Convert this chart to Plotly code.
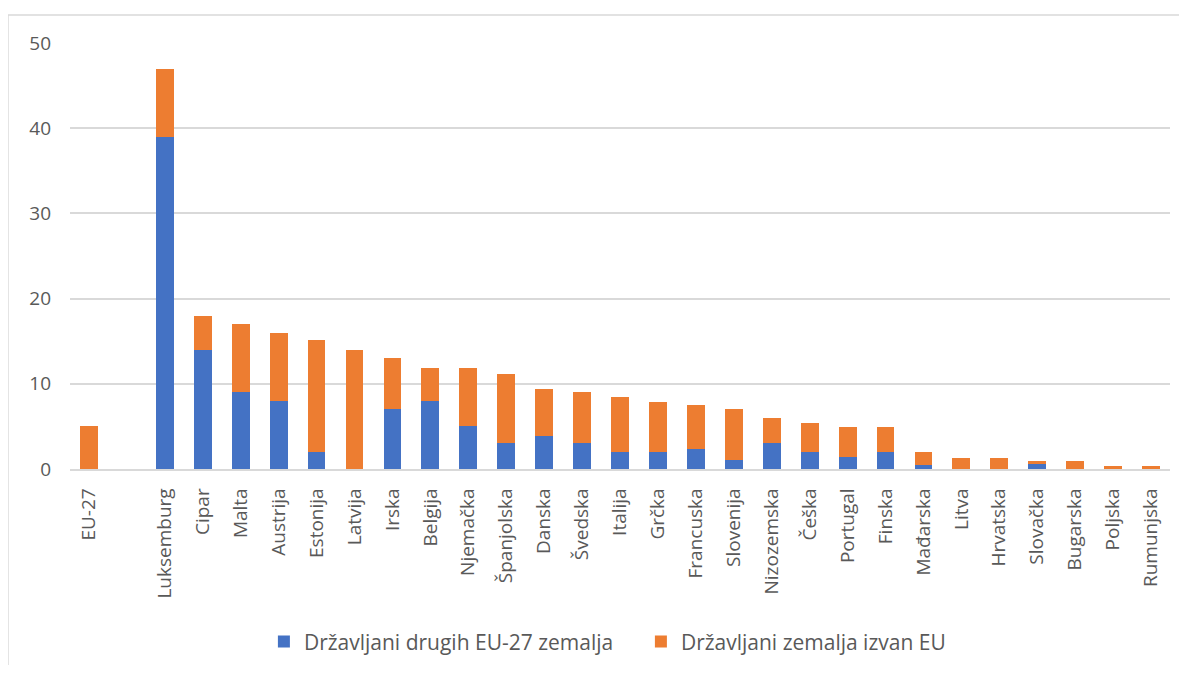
import plotly.graph_objects as go

categories = ["EU-27", " ", "Luksemburg", "Cipar", "Malta", "Austrija", "Estonija", "Latvija",
              "Irska", "Belgija", "Njemačka", "Španjolska", "Danska", "Švedska", "Italija",
              "Grčka", "Francuska", "Slovenija", "Nizozemska", "Češka", "Portugal", "Finska",
              "Mađarska", "Litva", "Hrvatska", "Slovačka", "Bugarska", "Poljska", "Rumunjska"]

eu_citizens = [0, None, 39, 14, 9, 8, 2, 0, 7.1, 8, 5, 3.1, 3.9, 3.1, 2,
               2, 2.4, 1, 3.1, 2, 1.4, 2, 0.5, 0, 0, 0.7, 0, 0, 0]
non_eu_citizens = [5, None, 8, 4, 8, 8, 13.1, 14, 5.9, 3.9, 6.9, 8, 5.5, 5.9, 6.5,
                   5.9, 5.1, 6.1, 2.9, 3.4, 3.5, 2.9, 1.5, 1.35, 1.35, 0.2, 0.9, 0.3, 0.3]

series_names = ["Državljani drugih EU-27 zemalja", "Državljani zemalja izvan EU"]
colors = ["#4472C4", "#ED7D31"]
y_ticks = [0, 10, 20, 30, 40, 50]

FONT = "Open Sans"
GRAY = "#595959"

fig = go.Figure()
for name, vals, col in zip(series_names, [eu_citizens, non_eu_citizens], colors):
    fig.add_trace(go.Bar(x=categories, y=vals, name=name, marker=dict(color=col, line=dict(width=0))))

fig.update_layout(
    barmode="stack",
    bargap=0.53,
    width=1171, height=657,
    margin=dict(l=62, r=9, t=35, b=196, autoexpand=False),
    paper_bgcolor="white", plot_bgcolor="white",
    font=dict(family=FONT, size=19, color=GRAY),
    showlegend=True,
    legend=dict(orientation="h", x=0.519, xanchor="center", y=-0.406, yanchor="middle",
                font=dict(size=21, color=GRAY), traceorder="normal",
                entrywidth=332, entrywidthmode="pixels", itemwidth=30),
    xaxis=dict(type="category", categoryorder="array", categoryarray=categories,
               tickangle=-90, showgrid=False, showline=True, linecolor="#D9D9D9", linewidth=1.5,
               ticks="", ticklabelstandoff=10, tickfont=dict(size=19, color=GRAY)),
    yaxis=dict(range=[0, 50], tickvals=y_ticks, showgrid=True, gridcolor="#D9D9D9", gridwidth=1.5,
               zeroline=False, showline=False, ticks="", ticklabelstandoff=18,
               tickfont=dict(size=19, color=GRAY)),
    shapes=[
        dict(type="line", xref="paper", yref="paper", x0=-0.0564, x1=1.02, y0=1.0657, y1=1.0657,
             line=dict(color="#D9D9D9", width=1.5)),
        dict(type="line", xref="paper", yref="paper", x0=-0.0564, x1=-0.0564, y0=1.0657, y1=-0.48,
             line=dict(color="#D9D9D9", width=1.5)),
    ],
)

fig.write_html("out.html")
